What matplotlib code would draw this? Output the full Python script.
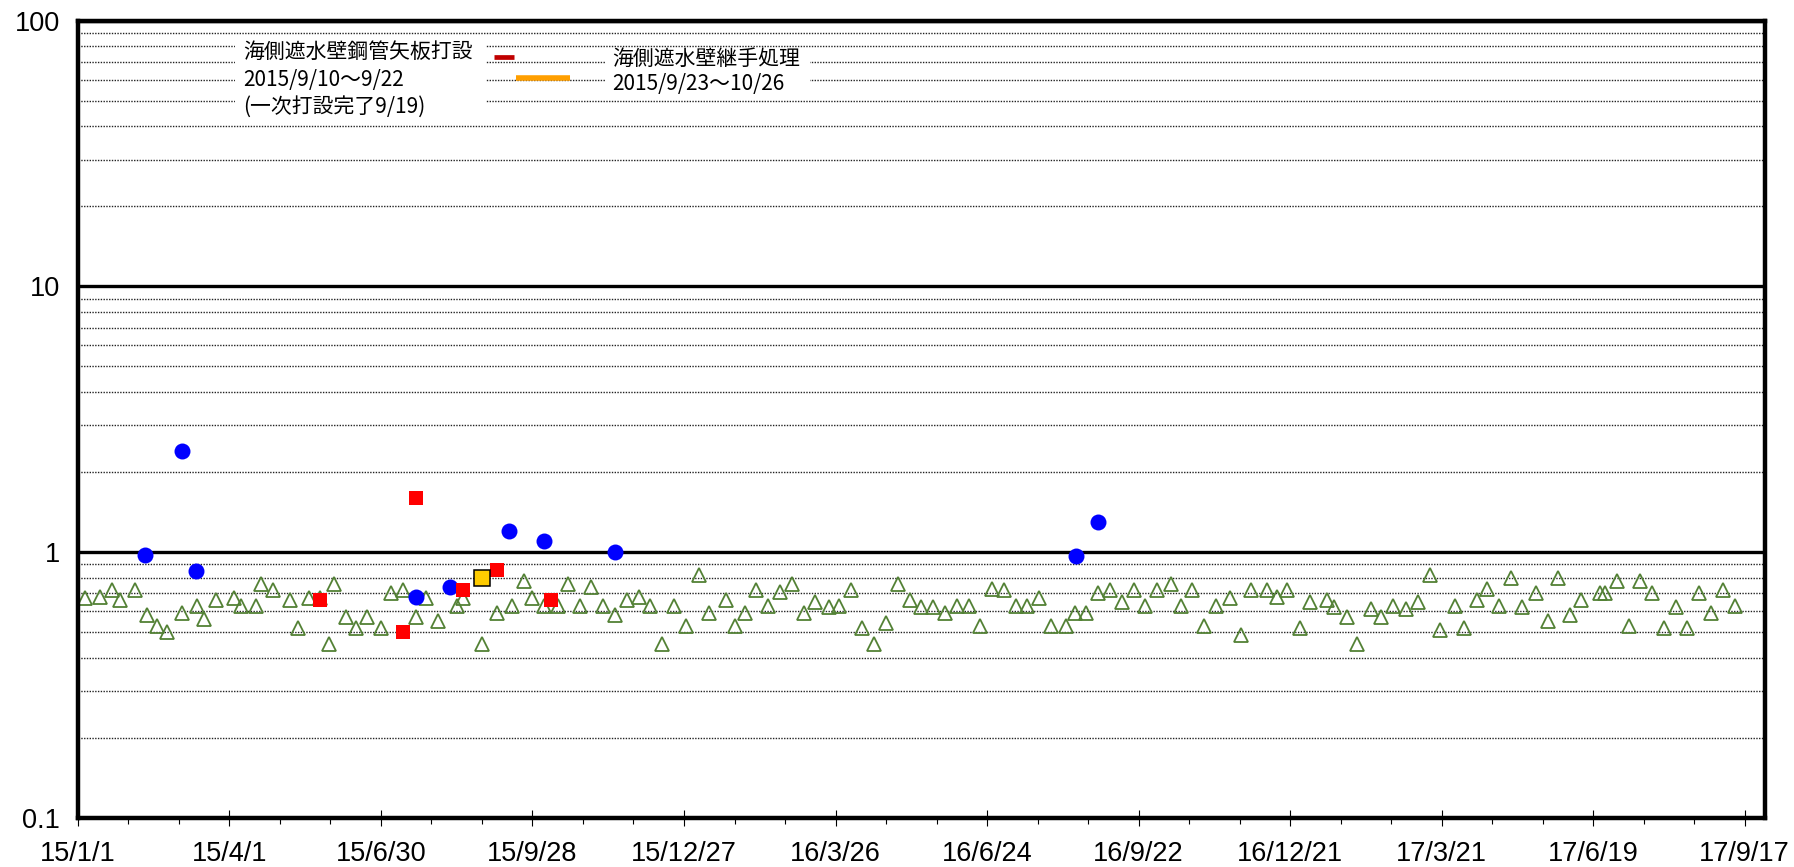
import numpy as np
import matplotlib
matplotlib.use("Agg")
import matplotlib.pyplot as plt
import matplotlib.dates as mdates
import matplotlib.ticker as ticker
from matplotlib.patches import Rectangle

plt.rcParams['font.family'] = ['Liberation Sans', 'Noto Sans CJK JP', 'DejaVu Sans']

# 日付は 2015/1/1 からの経過日数
start = np.datetime64('2015-01-01')

# 検出限界未満(△)
nd_days = [4, 13, 20, 25, 34, 41, 47, 53, 62, 71, 75, 82, 93, 97, 106, 109, 116, 126, 131, 137,
           144, 149, 152, 159, 165, 172, 180, 186, 193, 201, 207, 214, 225, 229, 240, 249, 258,
           265, 270, 277, 285, 291, 298, 305, 312, 319, 326, 333, 340, 347, 354, 361, 369, 375,
           385, 390, 396, 403, 410, 417, 424, 431, 438, 446, 452, 459, 466, 473, 480, 487, 494,
           501, 508, 515, 522, 529, 536, 543, 550, 557, 564, 571, 578, 587, 592, 599, 606, 613,
           620, 627, 634, 641, 649, 655, 662, 669, 676, 684, 691, 697, 706, 712, 718, 726, 732,
           742, 746, 754, 760, 768, 774, 781, 789, 796, 803, 809, 818, 823, 831, 837, 844, 851,
           858, 866, 873, 879, 886, 893, 904, 907, 914, 921, 928, 935, 942, 949, 956, 963, 970,
           977, 984]
nd_vals = [0.67, 0.68, 0.72, 0.66, 0.72, 0.58, 0.53, 0.50, 0.59, 0.63, 0.56, 0.66, 0.67, 0.63,
           0.63, 0.76, 0.72, 0.66, 0.52, 0.67, 0.67, 0.45, 0.76, 0.57, 0.52, 0.57, 0.52, 0.70,
           0.72, 0.57, 0.67, 0.55, 0.63, 0.67, 0.45, 0.59, 0.63, 0.78, 0.67, 0.63, 0.63, 0.76,
           0.63, 0.74, 0.63, 0.58, 0.66, 0.68, 0.63, 0.45, 0.63, 0.53, 0.82, 0.59, 0.66, 0.53,
           0.59, 0.72, 0.63, 0.71, 0.76, 0.59, 0.65, 0.62, 0.63, 0.72, 0.52, 0.45, 0.54, 0.76,
           0.66, 0.62, 0.62, 0.59, 0.63, 0.63, 0.53, 0.73, 0.72, 0.63, 0.63, 0.67, 0.53, 0.53,
           0.59, 0.59, 0.70, 0.72, 0.65, 0.72, 0.63, 0.72, 0.76, 0.63, 0.72, 0.53, 0.63, 0.67,
           0.49, 0.72, 0.72, 0.68, 0.72, 0.52, 0.65, 0.66, 0.62, 0.57, 0.45, 0.61, 0.57, 0.63,
           0.61, 0.65, 0.82, 0.51, 0.63, 0.52, 0.66, 0.73, 0.63, 0.80, 0.62, 0.70, 0.55, 0.80,
           0.58, 0.66, 0.70, 0.70, 0.78, 0.53, 0.78, 0.70, 0.52, 0.62, 0.52, 0.70, 0.59, 0.72,
           0.63]

# 検出値(●)
det_days = [40, 62, 70, 201, 221, 256, 277, 319, 593, 606]
det_vals = [0.98, 2.4, 0.85, 0.68, 0.74, 1.2, 1.1, 1.0, 0.97, 1.3]

# ■
red_days = [144, 193, 201, 229, 249, 281]
red_vals = [0.66, 0.50, 1.6, 0.72, 0.86, 0.66]

yel_days = [240]
yel_vals = [0.80]

# 工事期間バー
pile_days = [247, 259]
pile_level = 73
joint_days = [260, 292]
joint_level = 61

pile_text = "海側遮水壁鋼管矢板打設\n2015/9/10〜9/22\n(一次打設完了9/19)"
joint_text = "海側遮水壁継手処理\n2015/9/23〜10/26"


def to_date(days):
    return start + np.array(days).astype('timedelta64[D]')


fig = plt.figure(figsize=(17.94, 8.67), dpi=100)
ax = fig.add_axes([0.0434, 0.0565, 0.9404, 0.9197])

ax.plot(to_date(nd_days), nd_vals, ls='none', marker='^', ms=10.5, mfc='none',
        mec='#538135', mew=1.3, zorder=3)
ax.plot(to_date(det_days), det_vals, ls='none', marker='o', ms=11.5, mfc='#0000FF',
        mec='#0000FF', mew=0, zorder=4)
ax.plot(to_date(red_days), red_vals, ls='none', marker='s', ms=10.5, mfc='#FF0000',
        mec='#FF0000', mew=0, zorder=5)
ax.plot(to_date(yel_days), yel_vals, ls='none', marker='s', ms=11, mfc='#FFCC00',
        mec='black', mew=1.1, zorder=6)

ax.plot(to_date(pile_days), [pile_level] * 2, color='#C00000', lw=3.4,
        solid_capstyle='butt', zorder=3)
ax.plot(to_date(joint_days), [joint_level] * 2, color='#FF9F00', lw=4.0,
        solid_capstyle='butt', zorder=3)

ax.set_yscale('log')
ax.set_ylim(0.1, 100)
ax.set_xlim(start, start + np.timedelta64(1002, 'D'))

# y軸
ax.yaxis.set_major_locator(ticker.FixedLocator([0.1, 1, 10, 100]))
ax.yaxis.set_major_formatter(ticker.FuncFormatter(lambda v, p: '%g' % v))
ax.yaxis.set_minor_locator(ticker.LogLocator(base=10, subs=np.arange(2, 10), numticks=20))
ax.yaxis.set_minor_formatter(ticker.NullFormatter())
ax.tick_params(axis='y', which='both', length=0, labelsize=19.5, pad=13)

ax.grid(which='minor', axis='y', ls=(0, (1, 1)), lw=1.0, color='#222222')
ax.grid(which='major', axis='y', ls='-', lw=2.4, color='black')
ax.set_axisbelow(True)

# x軸 (90日ごと)
major = [mdates.date2num(start + np.timedelta64(90 * k, 'D')) for k in range(12)]
minor = [mdates.date2num(start + np.timedelta64(30 * k, 'D')) for k in range(34)]
ax.xaxis.set_major_locator(ticker.FixedLocator(major))
ax.xaxis.set_minor_locator(ticker.FixedLocator(minor))


def fmt(x, pos):
    d = mdates.num2date(x)
    return f"{d.year % 100}/{d.month}/{d.day}"


ax.xaxis.set_major_formatter(ticker.FuncFormatter(fmt))
ax.tick_params(axis='x', which='major', direction='inout', length=11, width=0.8,
               labelsize=19.5, pad=11)
ax.tick_params(axis='x', which='minor', direction='out', length=4.5, width=0.8)

for s in ax.spines.values():
    s.set_linewidth(3.2)
    s.set_zorder(7)

# 注記
ax.add_patch(Rectangle((0.0932, 0.8691), 0.1487, 0.1091, transform=ax.transAxes,
                       facecolor='white', edgecolor='none', zorder=2))
ax.add_patch(Rectangle((0.3131, 0.9004), 0.1209, 0.0602, transform=ax.transAxes,
                       facecolor='white', edgecolor='none', zorder=2))
ax.text(0.0979, 0.9569 + 0.0175, pile_text, transform=ax.transAxes, ha='left', va='top',
        fontsize=15, linespacing=1.33, family=['Noto Sans CJK JP', 'DejaVu Sans'], zorder=2.5)
ax.text(0.3166, 0.9481 + 0.0175, joint_text, transform=ax.transAxes, ha='left', va='top',
        fontsize=15, linespacing=1.2, family=['Noto Sans CJK JP', 'DejaVu Sans'], zorder=2.5)

fig.savefig('out.png', dpi=100)
